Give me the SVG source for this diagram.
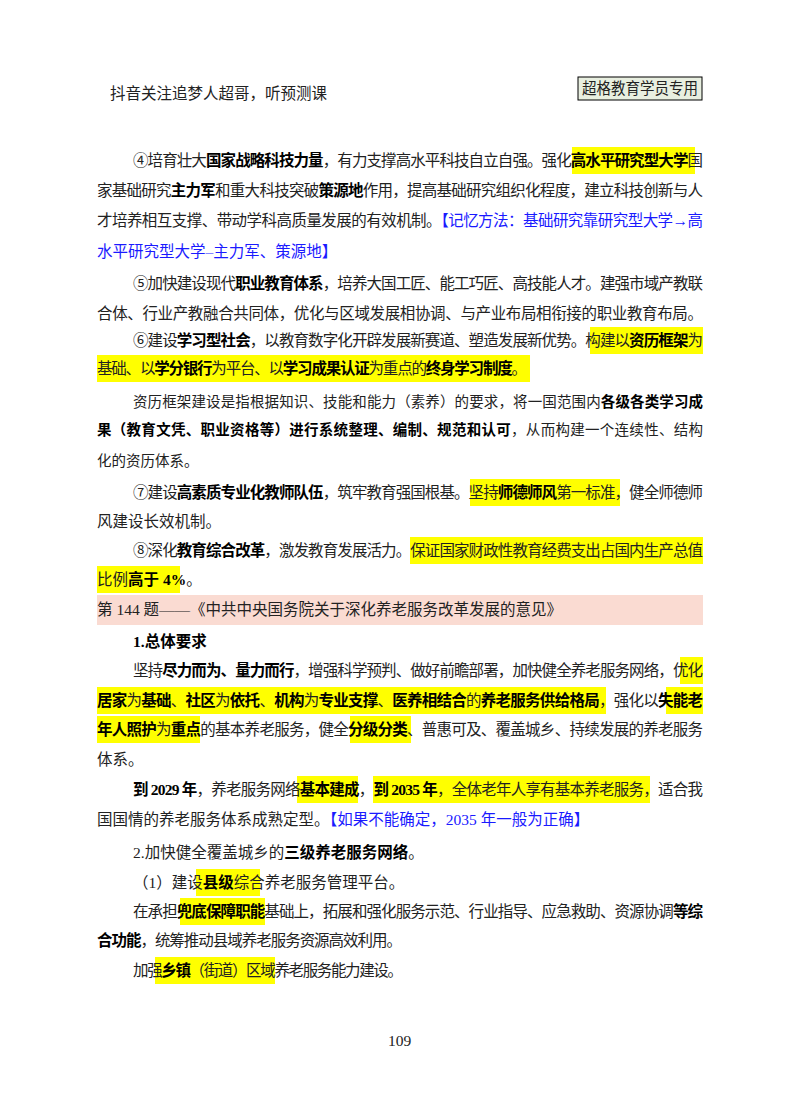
<svg xmlns="http://www.w3.org/2000/svg" width="800" height="1114" viewBox="0 0 800 1114">
<style>
text{font-family:"Liberation Serif","Noto Sans CJK SC",serif;font-size:15.5px;fill:#222}
.b{font-weight:bold;fill:#000}
.blue{fill:#1a1aff}
.hl{fill:#ffff00}
.s{font-size:14.5px}
</style>
<rect width="800" height="1114" fill="#fff"/>
<g id="header">
<text x="110" y="99" font-size="15">抖音关注追梦人超哥，听预测课</text>
<rect x="578" y="77" width="124" height="23" fill="#e8efe0" stroke="#000" stroke-width="1"/>
<text x="582" y="94" font-size="14" textLength="116" lengthAdjust="spacingAndGlyphs">超格教育学员专用</text>
</g>
<g id="highlights">
<rect class="hl" x="572" y="147" width="123" height="27"/>
<rect class="hl" x="590" y="327" width="113" height="27"/>
<rect class="hl" x="97" y="355" width="433" height="27"/>
<rect class="hl" x="470" y="479" width="150" height="27"/>
<rect class="hl" x="410" y="537" width="293" height="27"/>
<rect class="hl" x="97" y="566" width="83" height="27"/>
<rect x="97" y="595" width="606" height="30" fill="#fadbd2"/>
<rect class="hl" x="680" y="657" width="23" height="27"/>
<rect class="hl" x="97" y="687" width="509" height="27"/>
<rect class="hl" x="666" y="687" width="37" height="27"/>
<rect class="hl" x="97" y="716" width="103" height="27"/>
<rect class="hl" x="350" y="716" width="61" height="27"/>
<rect class="hl" x="297" y="776" width="61" height="27"/>
<rect class="hl" x="373" y="776" width="277" height="27"/>
<rect class="hl" x="196" y="869" width="64" height="27"/>
<rect class="hl" x="180" y="898" width="85" height="27"/>
<rect class="hl" x="155" y="957" width="120" height="27"/>
</g>
<g id="body">
<text x="133" y="166" textLength="570" lengthAdjust="spacing">④培育壮大<tspan class="b">国家战略科技力量</tspan>，有力支撑高水平科技自立自强。强化<tspan class="b">高水平研究型大学</tspan>国</text>
<text x="97" y="196" textLength="606" lengthAdjust="spacing">家基础研究<tspan class="b">主力军</tspan>和重大科技突破<tspan class="b">策源地</tspan>作用，提高基础研究组织化程度，建立科技创新与人</text>
<text x="97" y="226" textLength="606" lengthAdjust="spacing">才培养相互支撑、带动学科高质量发展的有效机制。<tspan class="blue">【记忆方法：基础研究靠研究型大学→高</tspan></text>
<text x="97" y="257" class="blue">水平研究型大学–主力军、策源地】</text>
<text x="133" y="289" textLength="570" lengthAdjust="spacing">⑤加快建设现代<tspan class="b">职业教育体系</tspan>，培养大国工匠、能工巧匠、高技能人才。建强市域产教联</text>
<text x="97" y="319" textLength="606" lengthAdjust="spacing">合体、行业产教融合共同体，优化与区域发展相协调、与产业布局相衔接的职业教育布局。</text>
<text x="133" y="346" textLength="570" lengthAdjust="spacing">⑥建设<tspan class="b">学习型社会</tspan>，以教育数字化开辟发展新赛道、塑造发展新优势。构建以<tspan class="b">资历框架</tspan>为</text>
<text x="97" y="374" textLength="430" lengthAdjust="spacing">基础、以<tspan class="b">学分银行</tspan>为平台、以<tspan class="b">学习成果认证</tspan>为重点的<tspan class="b">终身学习制度</tspan>。</text>
<text x="133" y="407" class="s" textLength="570" lengthAdjust="spacing">资历框架建设是指根据知识、技能和能力（素养）的要求，将一国范围内<tspan class="b">各级各类学习成</tspan></text>
<text x="97" y="435" class="s" textLength="606" lengthAdjust="spacing"><tspan class="b">果（教育文凭、职业资格等）进行系统整理、编制、规范和认可</tspan>，从而构建一个连续性、结构</text>
<text x="97" y="466" class="s">化的资历体系。</text>
<text x="133" y="498" textLength="570" lengthAdjust="spacing">⑦建设<tspan class="b">高素质专业化教师队伍</tspan>，筑牢教育强国根基。坚持<tspan class="b">师德师风</tspan>第一标准，健全师德师</text>
<text x="97" y="527">风建设长效机制。</text>
<text x="133" y="556" textLength="570" lengthAdjust="spacing">⑧深化<tspan class="b">教育综合改革</tspan>，激发教育发展活力。保证国家财政性教育经费支出占国内生产总值</text>
<text x="97" y="585">比例<tspan class="b">高于 4%</tspan>。</text>
<text x="97" y="615">第 144 题——《中共中央国务院关于深化养老服务改革发展的意见》</text>
<text x="133" y="647" class="b">1.总体要求</text>
<text x="133" y="676" textLength="570" lengthAdjust="spacing">坚持<tspan class="b">尽力而为、量力而行</tspan>，增强科学预判、做好前瞻部署，加快健全养老服务网络，优化</text>
<text x="97" y="706" textLength="606" lengthAdjust="spacing"><tspan class="b">居家</tspan>为<tspan class="b">基础</tspan>、<tspan class="b">社区</tspan>为<tspan class="b">依托</tspan>、<tspan class="b">机构</tspan>为<tspan class="b">专业支撑</tspan>、<tspan class="b">医养相结合</tspan>的<tspan class="b">养老服务供给格局</tspan>，强化以<tspan class="b">失能老</tspan></text>
<text x="97" y="735" textLength="606" lengthAdjust="spacing"><tspan class="b">年人照护</tspan>为<tspan class="b">重点</tspan>的基本养老服务，健全<tspan class="b">分级分类</tspan>、普惠可及、覆盖城乡、持续发展的养老服务</text>
<text x="97" y="765">体系。</text>
<text x="133" y="795" textLength="570" lengthAdjust="spacing"><tspan class="b">到 2029 年</tspan>，养老服务网络<tspan class="b">基本建成</tspan>，<tspan class="b">到 2035 年</tspan>，全体老年人享有基本养老服务，适合我</text>
<text x="97" y="825">国国情的养老服务体系成熟定型。<tspan class="blue">【如果不能确定，2035 年一般为正确】</tspan></text>
<text x="133" y="858">2.加快健全覆盖城乡的<tspan class="b">三级养老服务网络</tspan>。</text>
<text x="133" y="888">（1）建设<tspan class="b">县级</tspan>综合养老服务管理平台。</text>
<text x="133" y="917" textLength="570" lengthAdjust="spacing">在承担<tspan class="b">兜底保障职能</tspan>基础上，拓展和强化服务示范、行业指导、应急救助、资源协调<tspan class="b">等综</tspan></text>
<text x="97" y="946" textLength="305" lengthAdjust="spacing"><tspan class="b">合功能</tspan>，统筹推动县域养老服务资源高效利用。</text>
<text x="133" y="976" textLength="270" lengthAdjust="spacing">加强<tspan class="b">乡镇</tspan>（街道）区域养老服务能力建设。</text>
<text x="388" y="1046" font-size="13">109</text>
</g>
</svg>
